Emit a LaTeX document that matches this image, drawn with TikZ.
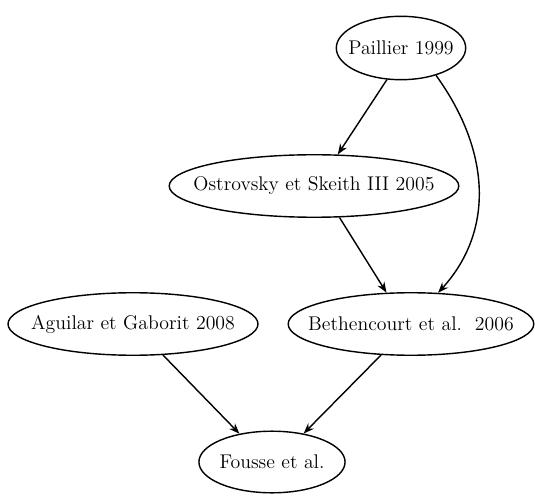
\documentclass[tikz,border=0pt]{standalone}
\usetikzlibrary{shapes.geometric,arrows.meta}
\begin{document}
\begin{tikzpicture}[x=0.568pt,y=-0.568pt,
  ell/.style={ellipse,draw,line width=0.8pt,inner xsep=-30pt,inner ysep=-4pt,font=\fontsize{11.25}{13}\selectfont},
  conn/.style={line width=0.8pt,-{Stealth[length=6pt,width=4.5pt]}}]
\useasboundingbox (0,0) rectangle (535,503);
\node[ell,minimum width=73.5pt,minimum height=36pt] (P) at (401,48) {Paillier 1999};
\node[ell,minimum width=164.5pt,minimum height=35.5pt] (O) at (314,186) {Ostrovsky et Skeith III 2005};
\node[ell,minimum width=142pt,minimum height=35.5pt] (A) at (133,324) {Aguilar et Gaborit 2008};
\node[ell,minimum width=139.5pt,minimum height=35.5pt] (B) at (411,324) {Bethencourt et al.\ \ 2006};
\node[ell,minimum width=83pt,minimum height=35pt] (F) at (272,462) {Fousse et al.};
\draw[conn] (P.246) -- (O.53);
\draw[conn] (P.322) .. controls (490,150) and (495,230) .. (B.49);
\draw[conn] (O.-51) -- (B.128);
\draw[conn] (A.-46) -- (F.139);
\draw[conn] (B.226) -- (F.42);
\end{tikzpicture}
\end{document}
